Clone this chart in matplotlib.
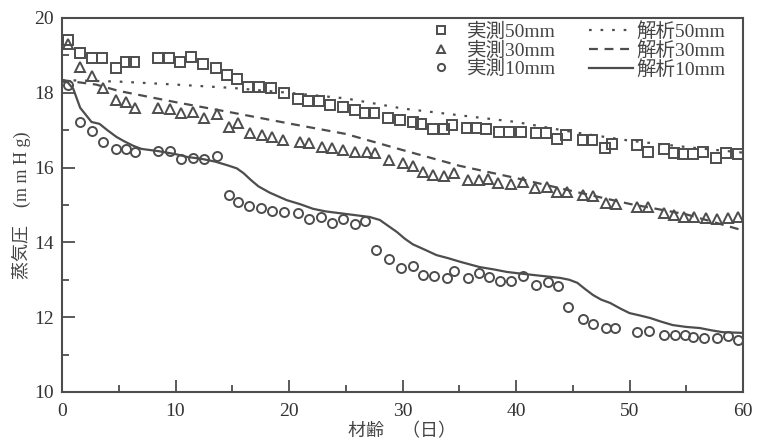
import matplotlib
matplotlib.use("Agg")
import matplotlib.pyplot as plt
from matplotlib.ticker import MultipleLocator

plt.rcParams['font.family'] = ['Liberation Serif', 'Noto Sans CJK JP']

# measured values (days, mmHg)
days_50 = [0.5, 1.6, 2.6, 3.5, 4.8, 5.6, 6.3, 8.5, 9.4, 10.4, 11.4, 12.4, 13.6, 14.5, 15.4,
           16.4, 17.4, 18.4, 19.6, 20.8, 21.7, 22.6, 23.6, 24.8, 25.8, 26.7, 27.5, 28.7, 29.8,
           30.9, 31.6, 32.7, 33.7, 34.4, 35.7, 36.5, 37.4, 38.5, 39.4, 40.4, 41.8, 42.6, 43.6,
           44.4, 45.9, 46.7, 47.8, 48.5, 50.7, 51.6, 53.0, 53.9, 54.7, 55.6, 56.5, 57.6, 58.5, 59.6]
meas_50 = [19.41, 19.06, 18.93, 18.93, 18.66, 18.82, 18.82, 18.93, 18.93, 18.82, 18.96, 18.77,
           18.66, 18.48, 18.37, 18.16, 18.16, 18.13, 17.99, 17.83, 17.78, 17.78, 17.67, 17.62,
           17.54, 17.46, 17.46, 17.33, 17.27, 17.22, 17.17, 17.03, 17.03, 17.14, 17.06, 17.06,
           17.03, 16.95, 16.95, 16.95, 16.93, 16.93, 16.76, 16.87, 16.74, 16.74, 16.52, 16.63,
           16.60, 16.42, 16.50, 16.39, 16.36, 16.36, 16.42, 16.26, 16.39, 16.36]

days_30 = [0.5, 1.6, 2.6, 3.6, 4.8, 5.6, 6.4, 8.5, 9.5, 10.5, 11.5, 12.5, 13.7, 14.7, 15.5,
           16.6, 17.6, 18.5, 19.5, 21.0, 21.8, 22.9, 23.8, 24.8, 25.8, 26.9, 27.6, 28.8, 30.0,
           30.9, 31.8, 32.7, 33.7, 34.5, 35.8, 36.7, 37.5, 38.4, 39.6, 40.6, 41.7, 42.7, 43.6,
           44.5, 45.9, 46.8, 47.9, 48.8, 50.7, 51.6, 53.0, 53.9, 54.8, 55.7, 56.7, 57.7, 58.7, 59.6]
meas_30 = [19.3, 18.69, 18.45, 18.13, 17.81, 17.75, 17.59, 17.59, 17.57, 17.46, 17.49, 17.33,
           17.43, 17.09, 17.19, 16.93, 16.87, 16.82, 16.74, 16.68, 16.66, 16.55, 16.52, 16.47,
           16.42, 16.42, 16.39, 16.20, 16.12, 16.04, 15.88, 15.80, 15.78, 15.86, 15.67, 15.67,
           15.70, 15.59, 15.55, 15.61, 15.46, 15.48, 15.35, 15.35, 15.27, 15.24, 15.05, 15.03,
           14.95, 14.95, 14.79, 14.73, 14.68, 14.68, 14.65, 14.63, 14.65, 14.68]

days_10 = [0.5, 1.6, 2.6, 3.6, 4.8, 5.6, 6.4, 8.5, 9.5, 10.5, 11.5, 12.5, 13.7, 14.7, 15.5,
           16.5, 17.5, 18.5, 19.6, 20.8, 21.8, 22.8, 23.8, 24.8, 25.8, 26.7, 27.7, 28.8, 29.9,
           30.9, 31.8, 32.8, 33.9, 34.5, 35.8, 36.7, 37.6, 38.6, 39.6, 40.6, 41.8, 42.8, 43.7,
           44.6, 45.9, 46.8, 47.9, 48.7, 50.7, 51.7, 53.0, 54.0, 54.9, 55.6, 56.6, 57.7, 58.7, 59.6]
meas_10 = [18.21, 17.22, 16.98, 16.68, 16.50, 16.50, 16.42, 16.44, 16.44, 16.24, 16.26, 16.24,
           16.31, 15.27, 15.08, 14.97, 14.92, 14.84, 14.81, 14.79, 14.62, 14.68, 14.52, 14.63,
           14.49, 14.57, 13.80, 13.55, 13.32, 13.37, 13.13, 13.10, 13.05, 13.24, 13.05, 13.18,
           13.07, 12.97, 12.97, 13.10, 12.86, 12.94, 12.83, 12.27, 11.95, 11.82, 11.71, 11.71,
           11.60, 11.63, 11.52, 11.52, 11.52, 11.47, 11.44, 11.44, 11.50, 11.39]

# analysis curves
calc_days_50 = [0, 5, 10, 15, 20, 25, 30, 35, 40, 45, 50, 55, 60]
calc_50 = [18.34, 18.30, 18.22, 18.13, 18.00, 17.85, 17.58, 17.40, 17.22, 16.95, 16.72, 16.55, 16.40]

calc_days_30 = [0, 3, 5, 10, 15, 20, 25, 30, 35, 40, 45, 50, 55, 60]
calc_30 = [18.34, 18.22, 18.05, 17.75, 17.47, 17.18, 16.90, 16.47, 16.05, 15.72, 15.37, 15.03, 14.75, 14.32]

calc_days_10 = [0, 0.5, 1.0, 1.6, 2.6, 3.3, 4.0, 4.8, 5.5, 6.3, 7.0, 8.5, 10, 11.1, 12.2, 13.5,
                14.6, 15.4, 16.0, 16.6, 17.3, 18.3, 19.8, 21.0, 22.1, 23.2, 24.5, 25.8, 27.1,
                28.0, 28.7, 29.5, 30.2, 30.9, 32.0, 33.0, 34.0, 35.1, 36.8, 38.0, 39.2, 40.3,
                41.5, 42.7, 43.9, 44.7, 45.4, 46.1, 46.8, 47.5, 48.3, 49.2, 50.0, 51.0, 51.8,
                52.8, 53.8, 55.0, 56.2, 57.2, 58.2, 60.0]
calc_10 = [18.30, 18.28, 18.10, 17.60, 17.22, 17.17, 17.00, 16.82, 16.70, 16.58, 16.50, 16.44,
           16.36, 16.28, 16.24, 16.16, 16.06, 15.98, 15.85, 15.68, 15.50, 15.33, 15.13, 15.02,
           14.90, 14.83, 14.78, 14.73, 14.68, 14.60, 14.45, 14.28, 14.10, 13.95, 13.80, 13.66,
           13.58, 13.48, 13.34, 13.28, 13.21, 13.17, 13.13, 13.09, 13.05, 13.00, 12.92, 12.75,
           12.59, 12.47, 12.38, 12.23, 12.11, 12.04, 11.98, 11.88, 11.79, 11.74, 11.71, 11.65,
           11.60, 11.58]

c = "#4d4d4d"

fig = plt.figure(figsize=(7.61, 4.41), dpi=100)
ax = fig.add_axes([62 / 761, 1 - 392 / 441, (743 - 62) / 761, (392 - 18) / 441])

mk = dict(linestyle="none", markerfacecolor="none", markeredgecolor=c, markeredgewidth=1.4, markersize=6.5)
ax.plot(days_50, meas_50, marker="s", label="実測50mm", **mk)
ax.plot(days_30, meas_30, marker="^", label="実測30mm", **mk)
ax.plot(days_10, meas_10, marker="o", label="実測10mm", **mk)

ax.plot(calc_days_50, calc_50, color=c, lw=1.6, linestyle=(0, (1.2, 4)), label="解析50mm")
ax.plot(calc_days_30, calc_30, color=c, lw=1.6, linestyle=(0, (4, 3)), label="解析30mm")
ax.plot(calc_days_10, calc_10, color=c, lw=1.6, label="解析10mm")

ax.set_xlim(0, 60)
ax.set_ylim(10, 20)
ax.xaxis.set_major_locator(MultipleLocator(10))
ax.xaxis.set_minor_locator(MultipleLocator(5))
ax.yaxis.set_major_locator(MultipleLocator(2))
ax.yaxis.set_minor_locator(MultipleLocator(1))
ax.tick_params(which="both", direction="in", color=c, width=1.3, labelsize=14, labelcolor="#333333")
ax.tick_params(which="major", length=9, pad=6)
ax.tick_params(which="minor", length=5)
ax.tick_params(axis="x", pad=8)
for s in ax.spines.values():
    s.set_color(c)
    s.set_linewidth(1.5)

ax.set_xlabel("材齢　（日）", fontsize=13, color="#444444", labelpad=2)
ax.set_ylabel("蒸気圧　(m m H g)", fontsize=13, color="#444444", labelpad=2)

ax.legend(ncol=2, loc="upper right", bbox_to_anchor=(1.0, 1.035), frameon=False, fontsize=14,
          handlelength=2.3, handletextpad=0.15, columnspacing=1.7, labelspacing=0.0,
          markerscale=0.8, labelcolor="#444444")

fig.savefig("out.png", dpi=100)
